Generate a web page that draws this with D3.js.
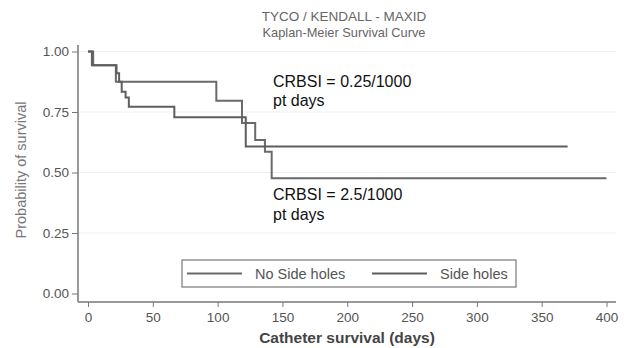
<!DOCTYPE html>
<html>
<head>
<meta charset="utf-8">
<script src="https://cdn.jsdelivr.net/npm/d3@7"></script>
<style>
  body { margin: 0; background: #fff; }
  text { font-family: "Liberation Sans", Arial, sans-serif; }
</style>
</head>
<body>
<div id="chart"></div>
<script>
// Kaplan-Meier steps (day, survival)
const noHolesDays = [0, 4, 21.5, 99, 118.8, 129, 136.5, 141.7, 400];
const noHolesSurv = [1.0, 0.943, 0.875, 0.797, 0.705, 0.634, 0.586, 0.476, 0.476];
const holesDays = [0, 3, 22, 24, 26, 29, 31.5, 66.6, 121.7, 370];
const holesSurv = [1.0, 0.943, 0.91, 0.875, 0.834, 0.81, 0.772, 0.728, 0.607, 0.607];

const xTicks = [0, 50, 100, 150, 200, 250, 300, 350, 400];
const yTicks = [0, 0.25, 0.5, 0.75, 1.0];
const legendLabels = ['No Side holes', 'Side holes'];

const width = 624, height = 348;

const svg = d3.select('#chart').append('svg')
    .attr('width', width)
    .attr('height', height);

const x = d3.scaleLinear().domain([0, 400]).range([88, 606.5]);
const y = d3.scaleLinear().domain([0, 1]).range([293.5, 51.5]);

// gridlines
svg.append('g')
  .selectAll('line')
  .data(yTicks.filter(d => d > 0))
  .join('line')
    .attr('x1', 79).attr('x2', 616)
    .attr('y1', d => y(d)).attr('y2', d => y(d))
    .attr('stroke', '#efefef')
    .attr('stroke-width', 1);

// axes
const yAxis = d3.axisLeft(y).tickValues(yTicks).tickFormat(d3.format('.2f')).tickSize(6).tickPadding(3);
const xAxis = d3.axisBottom(x).tickValues(xTicks).tickFormat(d3.format('d')).tickSize(5).tickPadding(5);

const yG = svg.append('g').attr('transform', 'translate(78,0)').call(yAxis);
yG.select('.domain').remove();
yG.append('line').attr('x1', 0).attr('x2', 0).attr('y1', 45).attr('y2', 302)
  .attr('stroke', '#777').attr('stroke-width', 1.5);

const xG = svg.append('g').attr('transform', 'translate(0,302)').call(xAxis);
xG.select('.domain').remove();
xG.append('line').attr('x1', 78).attr('x2', 616).attr('y1', 0).attr('y2', 0)
  .attr('stroke', '#777').attr('stroke-width', 1.5);

svg.selectAll('.tick line').attr('stroke', '#777');
svg.selectAll('.tick text').attr('fill', '#555').style('font-size', '13.5px')
  .style('font-family', '"Liberation Sans", Arial, sans-serif');

// curves
const line = d3.line().curve(d3.curveStepAfter).x(d => x(d[0])).y(d => y(d[1]));
const series = [
  {pts: d3.zip(noHolesDays, noHolesSurv), color: '#6a6a6a'},
  {pts: d3.zip(holesDays, holesSurv), color: '#5e5e5e'}
];
svg.append('g').selectAll('path')
  .data(series)
  .join('path')
    .attr('d', d => line(d.pts))
    .attr('fill', 'none')
    .attr('stroke', d => d.color)
    .attr('stroke-width', 2);

// titles
svg.append('text').attr('x', 344).attr('y', 21).attr('text-anchor', 'middle')
  .attr('fill', '#666').style('font-size', '13.5px').text('TYCO / KENDALL - MAXID');
svg.append('text').attr('x', 344).attr('y', 37).attr('text-anchor', 'middle')
  .attr('fill', '#666').style('font-size', '12.8px').text('Kaplan-Meier Survival Curve');

svg.append('text')
  .attr('transform', 'translate(26,170) rotate(-90)')
  .attr('text-anchor', 'middle').attr('fill', '#777')
  .style('font-size', '14.5px').text('Probability of survival');

svg.append('text').attr('x', 347).attr('y', 343).attr('text-anchor', 'middle')
  .attr('fill', '#444').style('font-size', '15.5px').style('font-weight', 'bold')
  .text('Catheter survival (days)');

// annotations
const notes = [
  {lines: ['CRBSI = 0.25/1000', 'pt days'], x: 273, y: 87, dy: 18.5},
  {lines: ['CRBSI = 2.5/1000', 'pt days'], x: 273, y: 200, dy: 20}
];
notes.forEach(n => {
  n.lines.forEach((t, i) => {
    svg.append('text').attr('x', n.x).attr('y', n.y + i * n.dy)
      .attr('fill', '#111').style('font-size', '16px').text(t);
  });
});

// legend
const lg = svg.append('g');
lg.append('rect').attr('x', 182).attr('y', 260).attr('width', 334).attr('height', 27)
  .attr('fill', '#fff').attr('stroke', '#777').attr('stroke-width', 1.2);
const legendX = [187, 372];
legendLabels.forEach((lab, i) => {
  lg.append('line').attr('x1', legendX[i]).attr('x2', legendX[i] + 55)
    .attr('y1', 273.5).attr('y2', 273.5)
    .attr('stroke', series[i].color).attr('stroke-width', 2);
  lg.append('text').attr('x', legendX[i] + 68).attr('y', 278.5)
    .attr('fill', '#555').style('font-size', '14.5px').text(lab);
});
</script>
</body>
</html>
